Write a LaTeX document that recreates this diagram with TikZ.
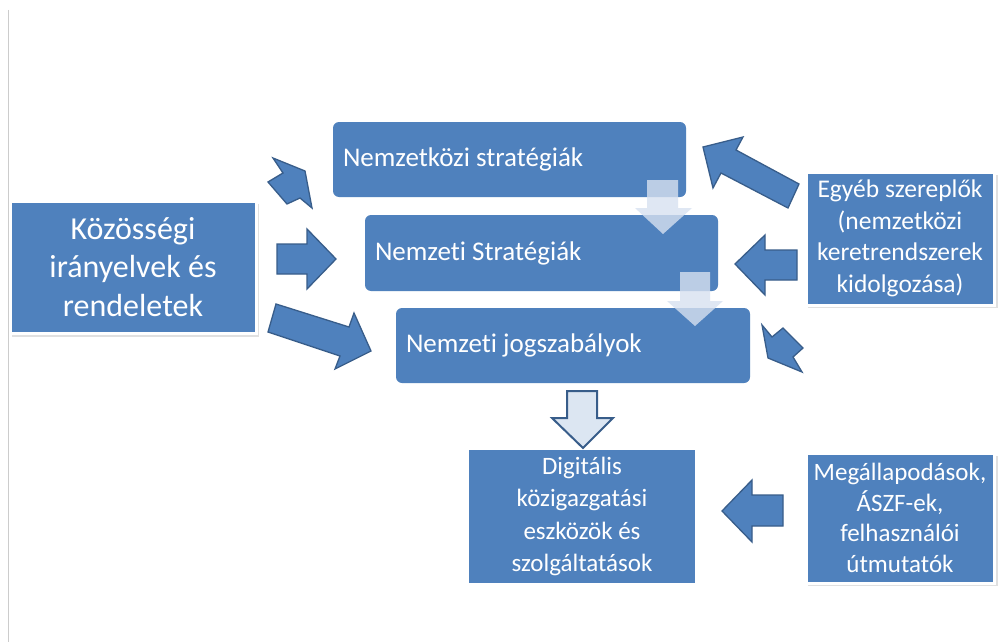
\documentclass[tikz,border=0pt]{standalone}
\usepackage{fontspec}
\setmainfont[Ligatures=NoCommon]{Carlito}
\begin{document}
\begin{tikzpicture}[x=1pt,y=-1pt]
\definecolor{boxblue}{RGB}{79,129,189}
\definecolor{edgeblue}{RGB}{56,93,138}
\definecolor{palearrow}{RGB}{215,225,240}
\definecolor{outlinefill}{RGB}{220,230,242}
\tikzset{
  roundbox/.style={fill=boxblue, text=white, rounded corners=6pt, inner xsep=10pt, inner ysep=0pt,
    font=\fontsize{27}{32}\selectfont},
  framedbox/.style={fill=boxblue, draw=white, line width=3pt, text=white, inner sep=0pt, align=center},
  plainbox/.style={fill=boxblue, text=white, inner sep=0pt, align=center},
  shadowbox/.style={fill=black, opacity=0.12},
  blockarrow/.style={fill=boxblue, draw=edgeblue, line width=1.3pt, line join=miter},
  palearrowstyle/.style={fill=palearrow, fill opacity=0.8, draw=none},
  outlinearrow/.style={fill=outlinefill, draw=edgeblue, line width=2pt, line join=miter}
}
\useasboundingbox (0,0) rectangle (998,642);
\fill[white] (0,0) rectangle (998,642);
\draw[gray!40, line width=1pt] (8,10) -- (8,642);

% shadows
\fill[shadowbox] (12,204) rectangle (259,337);
\fill[shadowbox] (808,175) rectangle (998,308);
\fill[shadowbox] (808,456) rectangle (998,586);

% boxes
\node[framedbox, minimum width=246pt, minimum height=132pt, font=\fontsize{32}{38.5}\selectfont] (kozos) at (133,267) {Közösségi\\irányelvek és\\rendeletek};
\node[roundbox, minimum width=353pt, minimum height=75pt] (nk) at (509.5,159.5) {\makebox[333pt][l]{Nemzetközi stratégiák}};
\node[roundbox, minimum width=353pt, minimum height=76pt] (ns) at (541.5,253) {\makebox[333pt][l]{Nemzeti Stratégiák}};
\node[roundbox, minimum width=354pt, minimum height=75pt] (nj) at (573,345.5) {\makebox[334pt][l]{Nemzeti jogszabályok}};
\node[plainbox, minimum width=226pt, minimum height=133pt, font=\fontsize{25}{32.5}\selectfont] (dig) at (582,516.5) {Digitális\\közigazgatási\\eszközök és\\szolgáltatások};
\node[framedbox, minimum width=188pt, minimum height=133pt, font=\fontsize{25.5}{31.5}\selectfont] (egy) at (900,238.5) {Egyéb szereplők\\(nemzetközi\\keretrendszerek\\kidolgozása)};
\node[framedbox, minimum width=188pt, minimum height=130pt, font=\fontsize{25}{30.5}\selectfont] (meg) at (900,518) {Megállapodások,\\ÁSZF-ek,\\felhasználói\\útmutatók};

% left block arrows
\draw[blockarrow] (273,158) -- (305,171) -- (312,208) -- (300,198) -- (287,204) -- (268,182) -- (283,173) -- cycle;
\draw[blockarrow] (277,244) -- (307,244) -- (307,229) -- (336,259) -- (307,289) -- (307,274) -- (277,274) -- cycle;
\draw[blockarrow] (276,304) -- (349,327) -- (354,313) -- (371,351) -- (335,369) -- (340,356) -- (268,332) -- cycle;

% right block arrows
\draw[blockarrow] (703,147) -- (743,137) -- (736,150) -- (799,184) -- (788,208) -- (721,173) -- (713,188) -- cycle;
\draw[blockarrow] (735,264) -- (765,235) -- (765,250) -- (797,250) -- (797,280) -- (765,280) -- (765,295) -- cycle;
\draw[blockarrow] (762,325) -- (772,337) -- (783,328) -- (803,348) -- (793,357) -- (802,372) -- (768,358) -- cycle;
\draw[blockarrow] (722,511) -- (752,480) -- (752,495) -- (783,495) -- (783,526) -- (752,526) -- (752,542) -- cycle;

% pale translucent down arrows
\fill[palearrowstyle] (647,180) -- (678,180) -- (678,208) -- (692,208) -- (663,234) -- (635,208) -- (647,208) -- cycle;
\fill[palearrowstyle] (680,272) -- (710,272) -- (710,301) -- (723,301) -- (695,326) -- (667,301) -- (680,301) -- cycle;

% outline down arrow
\draw[outlinearrow] (567,391) -- (597,391) -- (597,418) -- (613,418) -- (583,448) -- (552,418) -- (567,418) -- cycle;
\end{tikzpicture}
\end{document}
